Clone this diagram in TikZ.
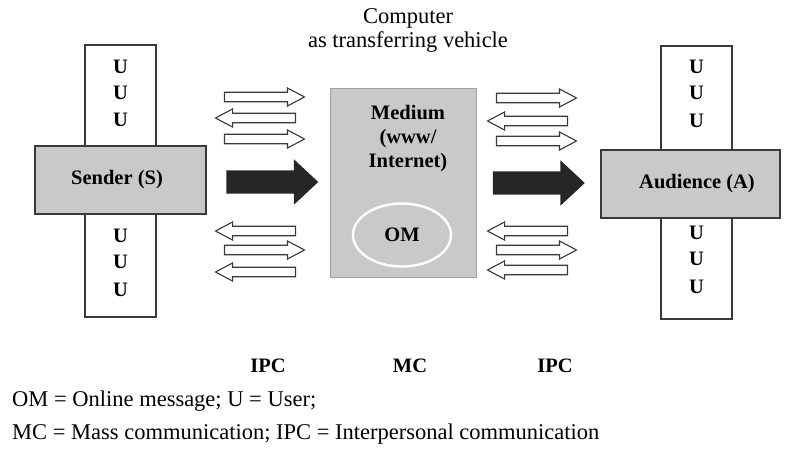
\documentclass[tikz,border=0pt]{standalone}
\usepackage{fontspec}
\setmainfont{Liberation Serif}
\usetikzlibrary{shapes.geometric,shapes.arrows}
\definecolor{edge}{HTML}{3A3A3A}
\definecolor{boxgray}{HTML}{C9C9C9}
\begin{document}
\begin{tikzpicture}[x=1pt,y=-1pt,
  txt/.style={font=\fontsize{22.5}{24}\selectfont, inner sep=0pt},
  btxt/.style={inner sep=0pt, font=\fontsize{20.5}{24}\selectfont\bfseries},
  column/.style={draw=edge, line width=2.4pt, fill=white, rectangle, inner sep=0pt},
  actor/.style={draw=edge, line width=2.4pt, fill=boxgray, rectangle, inner sep=0pt},
  thin/.style={shape=single arrow, draw=edge, line width=1.1pt, fill=white,
    inner xsep=0pt, inner ysep=4.2pt, minimum height=80pt,
    single arrow head extend=4.3pt, single arrow tip angle=56},
  thinL/.style={thin, shape border rotate=180},
  bold/.style={shape=single arrow, draw=none, fill=black!85,
    inner xsep=0pt, inner ysep=11.5pt, minimum height=92pt,
    single arrow head extend=11pt, single arrow tip angle=86}
]
\useasboundingbox (0,0) rectangle (792,450);

% title above the medium
\node[txt] (t1) at (408,18) {Computer};
\node[txt] (t2) at (408,42) {as transferring vehicle};

% sender side
\node[column, minimum width=71pt, minimum height=272pt] (lcol) at (120.5,181) {};
\node[actor, minimum width=171pt, minimum height=68pt] (sender) at (120.5,180) {};
\node[btxt] (sendertxt) at (117,180) {Sender (S)};
\foreach \y [count=\i] in {67,93,120,236,262,290}
  \node[btxt] (lu\i) at (120.5,\y) {U};

% medium
\node[rectangle, draw=boxgray!80!black, line width=0.6pt, fill=boxgray,
  minimum width=146pt, minimum height=189pt, inner sep=0pt] (medium) at (403,182.5) {};
\node[btxt, align=center] (mediumtxt) at (408,139) {Medium\\(www/\\Internet)};
\node[ellipse, draw=white, line width=2.4pt, minimum width=98pt,
  minimum height=63pt, inner sep=0pt] (om) at (402,235) {};
\node[btxt] (omtxt) at (402,235) {OM};

% audience side
\node[column, minimum width=71pt, minimum height=273pt] (rcol) at (696.5,182.5) {};
\node[actor, minimum width=179pt, minimum height=68pt] (aud) at (690.5,184) {};
\node[btxt] (audtxt) at (697,184) {Audience (A)};
\foreach \y [count=\i] in {67,93,121,233,259,287}
  \node[btxt] (ru\i) at (696.5,\y) {U};

% interpersonal exchange arrows
\node[thin]  (la1) at (260,97)  {};
\node[thinL] (la2) at (260,118) {};
\node[thin]  (la3) at (260,139) {};
\node[thinL] (la4) at (260,231) {};
\node[thin]  (la5) at (260,250) {};
\node[thinL] (la6) at (260,272) {};

\node[thin]  (ra1) at (532,98)  {};
\node[thinL] (ra2) at (532,121) {};
\node[thin]  (ra3) at (532,141) {};
\node[thinL] (ra4) at (532,231) {};
\node[thin]  (ra5) at (532,250) {};
\node[thinL] (ra6) at (532,270) {};

% mass communication arrows
\node[bold] (lbig) at (266,182) {};
\node[bold] (rbig) at (532.5,183) {};

% channel labels
\node[btxt] (ipc1) at (268,366) {IPC};
\node[btxt] (mc)   at (410,366) {MC};
\node[btxt] (ipc2) at (555,366) {IPC};

% legend
\node[txt, anchor=west] (leg1) at (12,401) {OM = Online message; U = User;};
\node[txt, anchor=west] (leg2) at (12,434) {MC = Mass communication; IPC = Interpersonal communication};
\end{tikzpicture}
\end{document}
